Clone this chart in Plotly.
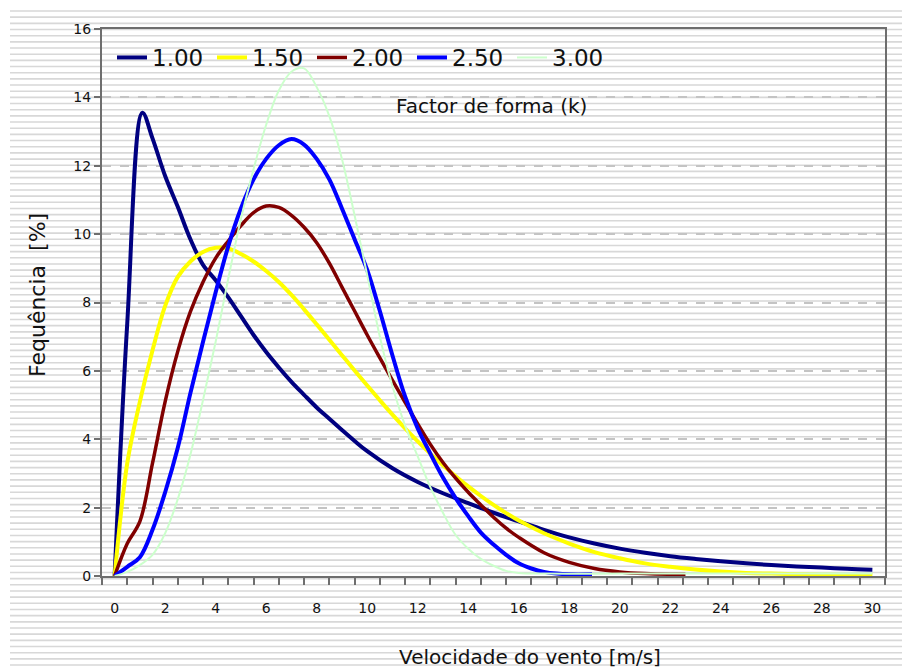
import plotly.graph_objects as go

# Wind-speed frequency curves (Weibull) for several shape factors k
speed_k100 = [0, 0.5, 1.1, 1.5, 2, 2.5, 3, 3.5, 4, 4.5, 5, 5.5, 6, 6.5, 7, 7.5, 8, 8.5, 9,
              9.5, 10, 11, 12, 13, 14, 15, 16, 17, 18, 19, 20, 21, 22, 23, 24, 25, 26, 27,
              28, 29, 30]
freq_k100 = [0, 7.4, 13.55, 12.8, 11.7, 10.8, 9.85, 9.1, 8.65, 8.15, 7.6, 7.05, 6.55, 6.1,
             5.68, 5.3, 4.93, 4.6, 4.27, 3.95, 3.65, 3.15, 2.75, 2.42, 2.13, 1.85, 1.6, 1.35,
             1.13, 0.95, 0.8, 0.68, 0.58, 0.5, 0.43, 0.37, 0.32, 0.28, 0.25, 0.21, 0.18]

speed_k150 = [0, 0.5, 1, 1.5, 2, 2.5, 3, 3.5, 4, 4.5, 5, 5.5, 6, 6.5, 7, 7.5, 8, 8.5, 9, 9.5,
              10, 10.5, 11, 11.5, 12, 12.5, 13, 13.5, 14, 14.5, 15, 15.5, 16, 17, 18, 19, 20,
              21, 22, 23, 24, 25, 26, 27, 28, 29, 30]
freq_k150 = [0, 3.3, 5.1, 6.6, 7.9, 8.75, 9.2, 9.48, 9.6, 9.58, 9.42, 9.2, 8.92, 8.6, 8.22,
             7.8, 7.36, 6.91, 6.46, 6.01, 5.57, 5.14, 4.72, 4.32, 3.94, 3.58, 3.24, 2.92, 2.62,
             2.34, 2.08, 1.84, 1.62, 1.25, 0.95, 0.7, 0.52, 0.37, 0.27, 0.19, 0.13, 0.09,
             0.07, 0.05, 0.04, 0.03, 0.03]

speed_k200 = [0, 0.5, 1, 1.5, 2, 2.5, 3, 3.5, 4, 4.5, 5, 5.5, 6, 6.5, 7, 7.5, 8, 8.5, 9, 9.5,
              10, 10.5, 11, 11.5, 12, 12.5, 13, 13.5, 14, 14.5, 15, 15.5, 16, 17, 18, 19, 20,
              21, 22, 22.6]
freq_k200 = [0, 0.95, 1.6, 3.3, 5.1, 6.57, 7.73, 8.6, 9.3, 9.8, 10.25, 10.63, 10.82, 10.78,
             10.55, 10.2, 9.75, 9.15, 8.45, 7.75, 7.05, 6.38, 5.72, 5.08, 4.45, 3.85, 3.32,
             2.86, 2.45, 2.08, 1.72, 1.4, 1.13, 0.68, 0.4, 0.22, 0.12, 0.07, 0.05, 0.05]

speed_k250 = [0, 0.5, 1, 1.5, 2, 2.5, 3, 3.5, 4, 4.5, 5, 5.5, 6, 6.5, 7, 7.5, 8, 8.5, 9, 9.5,
              10, 10.5, 11, 11.5, 12, 12.5, 13, 13.5, 14, 14.5, 15, 15.5, 16, 16.5, 17, 17.5,
              18, 18.9]
freq_k250 = [0, 0.27, 0.55, 1.35, 2.45, 3.75, 5.35, 6.85, 8.3, 9.65, 10.75, 11.6, 12.2, 12.6,
             12.78, 12.62, 12.2, 11.6, 10.75, 9.85, 8.95, 7.75, 6.45, 5.25, 4.32, 3.58, 2.88,
             2.28, 1.75, 1.27, 0.92, 0.62, 0.37, 0.22, 0.12, 0.07, 0.05, 0.05]

speed_k300 = [0, 0.5, 1, 1.5, 2, 2.5, 3, 3.5, 4, 4.5, 5, 5.5, 6, 6.5, 7, 7.5, 8, 8.5, 9, 9.5,
              10, 10.5, 11, 11.5, 12, 12.5, 13, 13.5, 14, 14.5, 15, 15.5, 16, 17, 20, 25, 30]
freq_k300 = [0, 0.12, 0.32, 0.62, 1.25, 2.25, 3.55, 5.15, 6.85, 8.7, 10.45, 11.9, 13.2, 14.2,
             14.75, 14.85, 14.3, 13.45, 12.2, 10.55, 8.8, 7.0, 5.55, 4.4, 3.5, 2.6, 1.85,
             1.2, 0.8, 0.5, 0.3, 0.15, 0.09, 0.07, 0.07, 0.07, 0.07]

series_names = ["1.00", "1.50", "2.00", "2.50", "3.00"]
series_speeds = [speed_k100, speed_k150, speed_k200, speed_k250, speed_k300]
series_freqs = [freq_k100, freq_k150, freq_k200, freq_k250, freq_k300]
series_colors = ["#000080", "#FFFF00", "#800000", "#0000FF", "#CCFFCC"]
series_widths = [4, 4, 3.5, 4, 2]

x_tick_values = list(range(0, 31, 2))
y_tick_values = list(range(0, 17, 2))

W, H = 902, 670
ML, MR, MT, MB = 102, 17, 29, 94
PW, PH = W - ML - MR, H - MT - MB


def to_paper(px, py):
    return (px - ML) / PW, (H - MB - py) / PH


FONT = "DejaVu Sans"
INK = "#111111"

fig = go.Figure()
for name, xs, ys, col, lw in zip(series_names, series_speeds, series_freqs,
                                 series_colors, series_widths):
    fig.add_trace(go.Scatter(
        x=xs, y=ys, name=name, mode="lines",
        line=dict(color=col, width=lw, shape="spline", smoothing=1.0),
    ))

# horizontal ruled background behind the whole figure
segs = []
x0p, _ = to_paper(10, 0)
x1p, _ = to_paper(W, 0)
i = 0
while True:
    py = 11 + 6.17 * i
    if py > H - 3:
        break
    _, yp = to_paper(0, py)
    segs.append(f"M{x0p:.5f},{yp:.5f}L{x1p:.5f},{yp:.5f}")
    i += 1
fig.add_shape(type="path", path="".join(segs), xref="paper", yref="paper",
              line=dict(color="#d8d8d8", width=1.6), layer="below")

lx, ly = to_paper(112, 36)
fig.update_layout(
    width=W, height=H,
    margin=dict(l=ML, r=MR, t=MT, b=MB),
    paper_bgcolor="white",
    plot_bgcolor="rgba(0,0,0,0)",
    font=dict(family=FONT, color=INK),
    showlegend=True,
    legend=dict(
        orientation="h", x=lx, y=ly, xanchor="left", yanchor="top",
        font=dict(family=FONT, size=23, color=INK),
        bgcolor="rgba(0,0,0,0)", itemwidth=30,
        entrywidth=55, entrywidthmode="pixels",
    ),
)

fig.update_xaxes(
    range=[-0.5, 30.5],
    tickmode="array", tickvals=x_tick_values,
    ticktext=[str(v) for v in x_tick_values],
    ticks="", ticklabelstandoff=18,
    tickfont=dict(family=FONT, size=14, color=INK),
    showgrid=False, zeroline=False,
    showline=True, linecolor="#6e6e6e", linewidth=2, mirror=True,
    minor=dict(ticks="outside", tick0=0.5, dtick=1, ticklen=7,
               tickcolor="#6e6e6e", tickwidth=1.5, showgrid=False),
)
fig.update_yaxes(
    range=[0, 16],
    tickmode="array", tickvals=y_tick_values,
    ticks="outside", ticklen=6, tickcolor="#6e6e6e", tickwidth=1.5,
    tickfont=dict(family=FONT, size=14, color=INK),
    showgrid=True, gridcolor="#c4c4c4", griddash="dash", gridwidth=1.5,
    zeroline=False,
    showline=True, linecolor="#6e6e6e", linewidth=2, mirror=True,
)

ax, ay = to_paper(491, 106)
fig.add_annotation(text="Factor de forma (k)", x=ax, y=ay, xref="paper", yref="paper",
                   xanchor="center", yanchor="middle", showarrow=False,
                   font=dict(family=FONT, size=20, color=INK))
ax, ay = to_paper(530, 657)
fig.add_annotation(text="Velocidade do vento [m/s]", x=ax, y=ay, xref="paper", yref="paper",
                   xanchor="center", yanchor="middle", showarrow=False,
                   font=dict(family=FONT, size=20, color=INK))
ax, ay = to_paper(37, 295)
fig.add_annotation(text="Fequência  [%]", x=ax, y=ay, xref="paper", yref="paper",
                   xanchor="center", yanchor="middle", showarrow=False, textangle=-90,
                   font=dict(family=FONT, size=22, color=INK))

fig.write_html("out.html")
